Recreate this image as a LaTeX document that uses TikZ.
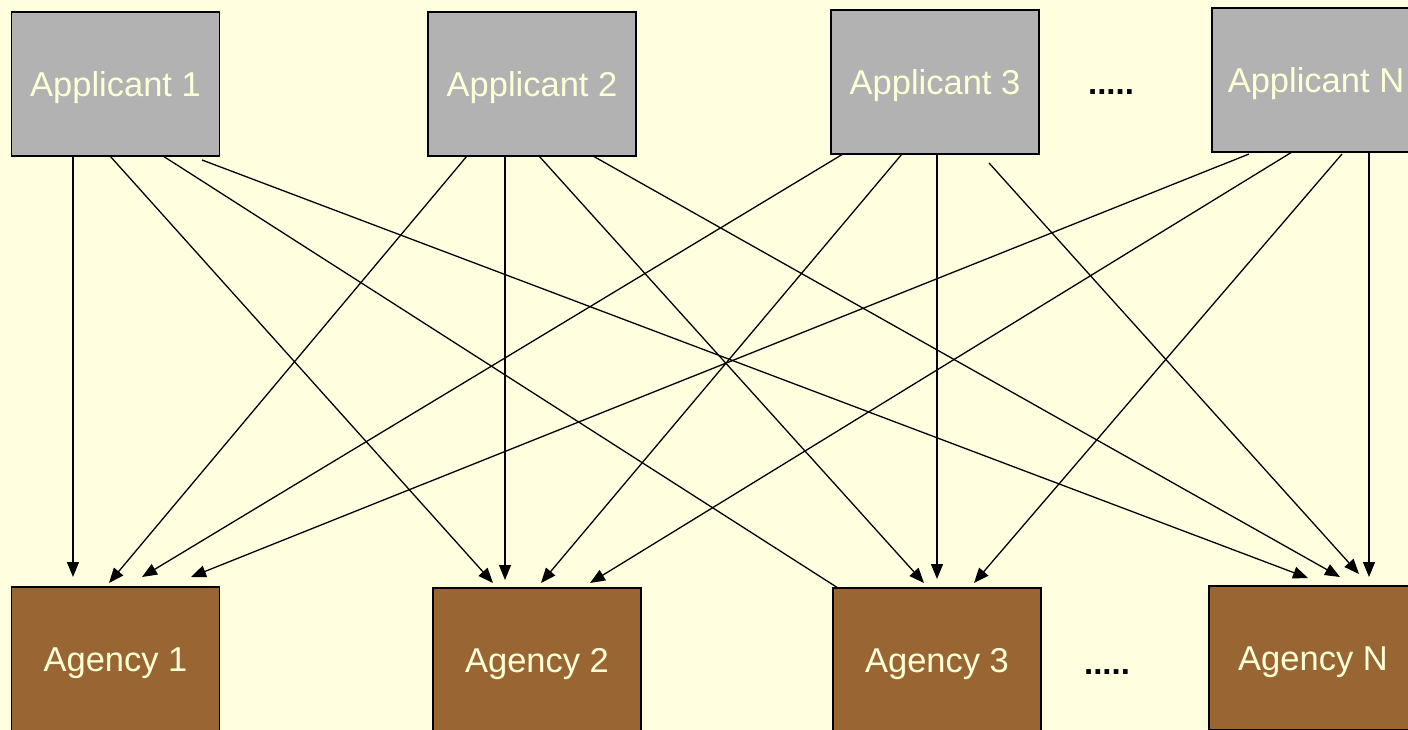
\documentclass[tikz,border=0pt]{standalone}
\usepackage{fontspec}
\setmainfont{Liberation Sans}
\usetikzlibrary{arrows.meta,calc}
\definecolor{bgyellow}{HTML}{FFFFE0}
\definecolor{appgray}{HTML}{B2B2B2}
\definecolor{agbrown}{HTML}{996633}
\definecolor{txtcream}{HTML}{FFFFD8}
\tikzset{
  box/.style={draw=black, line width=1.8pt, minimum width=208pt, minimum height=144pt,
    inner sep=0pt, outer sep=0pt, text=txtcream, text height=24.5pt, text depth=0pt,
    font=\fontsize{34.5}{41}\selectfont},
  appbox/.style={box, fill=appgray},
  agbox/.style={box, fill=agbrown},
  link/.style={line width=1.3pt, -{Triangle[length=15pt,width=12pt]}},
  plainlink/.style={line width=1.3pt},
  dots/.style={font=\fontsize{33}{40}\selectfont\bfseries, inner sep=0pt, anchor=base}
}
\begin{document}
\begin{tikzpicture}[x=1pt,y=-1pt]
\useasboundingbox (0,0) rectangle (1408,730);
\begin{scope}
\clip (0,0) rectangle (1408,730);
\fill[bgyellow] (0,0) rectangle (1408,730);

\node[appbox] (p1) at (115.5,84) {Applicant 1};
\node[appbox] (p2) at (532,84) {Applicant 2};
\node[appbox] (p3) at (935,82) {Applicant 3};
\node[appbox] (pn) at (1316,80) {Applicant N};

\node[agbox] (g1) at (115.5,659) {Agency 1};
\node[agbox] (g2) at (537,660) {Agency 2};
\node[agbox] (g3) at (937,660) {Agency 3};
\node[agbox] (gn) at (1313,658) {Agency N};

\node[dots] (dtop) at (1111,95) {.....};
\node[dots] (dbot) at (1107,674) {.....};

% Applicant 1
\draw[link] ($(p1.south west)+(61.5,0)$) -- ($(g1.north west)+(61.5,-10)$);
\draw[link] ($(p1.south west)+(98.5,0)$) -- ($(g2.north west)+(60,-5)$);
\draw[plainlink] ($(p1.south west)+(151.5,0)$) -- ($(g3.north west)+(5,0)$);
\draw[link] ($(p1.south west)+(190.5,4)$) -- ($(gn.north west)+(99,-8)$);
% Applicant 2
\draw[link] ($(p2.south west)+(39,0)$) -- ($(g1.north west)+(97.5,-4)$);
\draw[link] ($(p2.south west)+(77,0)$) -- ($(g2.north west)+(72,-8)$);
\draw[link] ($(p2.south west)+(111,0)$) -- ($(g3.north west)+(91,-5)$);
\draw[link] ($(p2.south west)+(165,0)$) -- ($(gn.north west)+(131,-9)$);
% Applicant 3
\draw[link] ($(p3.south west)+(12,0)$) -- ($(g1.north west)+(130.5,-10)$);
\draw[link] ($(p3.south west)+(71,0)$) -- ($(g2.north west)+(108,-5)$);
\draw[link] ($(p3.south west)+(106,0)$) -- ($(g3.north west)+(104,-9)$);
\draw[link] ($(p3.south west)+(158,9)$) -- ($(gn.north west)+(150,-12)$);
% Applicant N
\draw[link] ($(pn.south west)+(37,2)$) -- ($(g1.north west)+(179.5,-10)$);
\draw[link] ($(pn.south west)+(80,0)$) -- ($(g2.north west)+(157,-5)$);
\draw[link] ($(pn.south west)+(130,2)$) -- ($(g3.north west)+(141,-5)$);
\draw[link] ($(pn.south west)+(157,0)$) -- ($(gn.north west)+(160,-9)$);
\end{scope}
\end{tikzpicture}
\end{document}
